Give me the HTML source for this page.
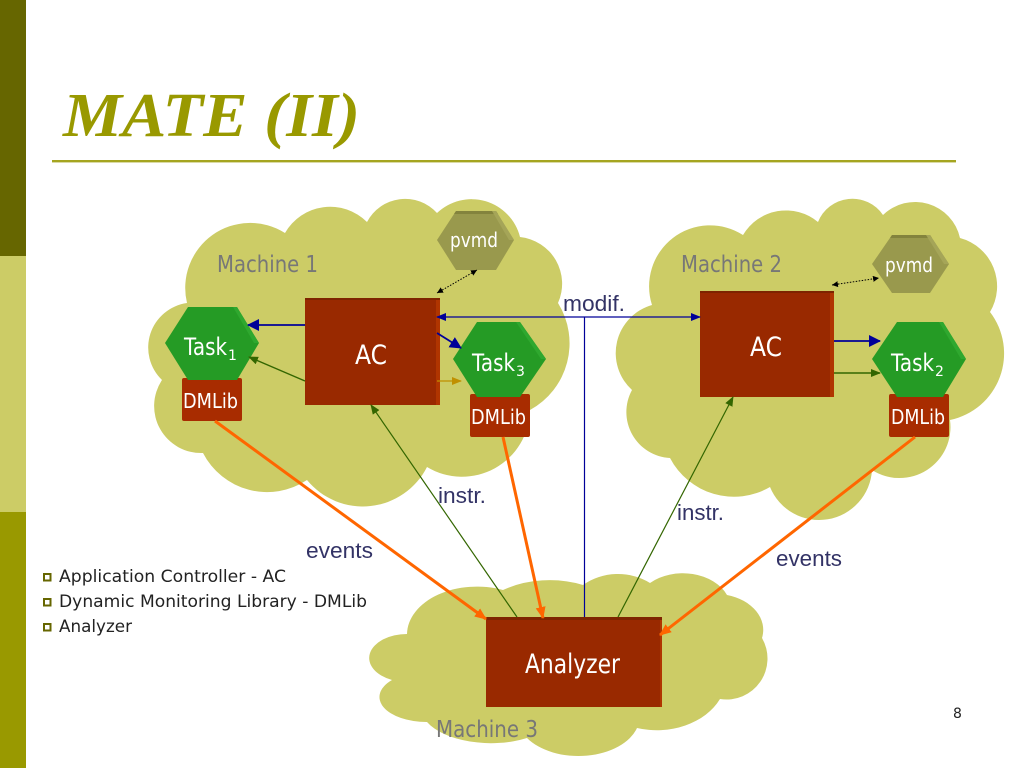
<!DOCTYPE html>
<html><head><meta charset="utf-8"><style>
html,body{margin:0;padding:0;background:#fff;width:1024px;height:768px;overflow:hidden}
svg{display:block}
text{font-family:"Liberation Sans",sans-serif}
.d{font-family:"DejaVu Sans",sans-serif}
.w{fill:#fff;font-family:"DejaVu Sans",sans-serif}
.m{fill:#777777;font-size:23px;font-family:"DejaVu Sans",sans-serif}
.l{fill:#333366;font-size:22px}
</style></head><body>
<svg width="1024" height="768" viewBox="0 0 1024 768" xmlns="http://www.w3.org/2000/svg">
<defs>
<marker id="bl" markerUnits="userSpaceOnUse" markerWidth="14" markerHeight="14" refX="11" refY="6" orient="auto-start-reverse"><path d="M0 0L12 6L0 12z" fill="#000099"/></marker>
<marker id="bs" markerUnits="userSpaceOnUse" markerWidth="12" markerHeight="10" refX="9" refY="4" orient="auto-start-reverse"><path d="M0 0L10 4L0 8z" fill="#000099"/></marker>
<marker id="gr" markerUnits="userSpaceOnUse" markerWidth="12" markerHeight="10" refX="9" refY="4" orient="auto"><path d="M0 0L10 4L0 8z" fill="#336600"/></marker>
<marker id="go" markerUnits="userSpaceOnUse" markerWidth="12" markerHeight="10" refX="9" refY="4" orient="auto"><path d="M0 0L10 4L0 8z" fill="#c09000"/></marker>
<marker id="or" markerUnits="userSpaceOnUse" markerWidth="14" markerHeight="14" refX="11" refY="5" orient="auto"><path d="M0 0L12 5L0 10z" fill="#ff6600"/></marker>
<marker id="bk" markerUnits="userSpaceOnUse" markerWidth="8" markerHeight="8" refX="6" refY="3" orient="auto-start-reverse"><path d="M0 0L6 3L0 6z" fill="#000"/></marker>
</defs>
<rect x="0" y="0" width="26" height="256" fill="#666600"/>
<rect x="0" y="256" width="26" height="256" fill="#cccc66"/>
<rect x="0" y="512" width="26" height="256" fill="#999900"/>
<text x="63" y="136" style="font-family:'Liberation Serif',serif;font-weight:bold;font-style:italic" font-size="62" fill="#999900" textLength="297" lengthAdjust="spacingAndGlyphs">MATE (II)</text>
<rect x="52" y="160" width="904" height="2.4" fill="#a5a520"/>

<g fill="#cccc66">
<!-- Cloud 1 -->
<path d="M285,233 A52,52 0 0 1 367,222 A43,43 0 0 1 437,213 A50,50 0 0 1 520,237 A47,47 0 0 1 558,303 A76,76 0 0 1 530,410 A68,68 0 0 1 427,467 A72,72 0 0 1 307,480 A72,72 0 0 1 203,453 A47,47 0 0 1 162,380 A45,45 0 0 1 187,303 A65,65 0 0 1 285,233 Z"/>
<!-- Cloud 2 -->
<path d="M743,235 A50,50 0 0 1 818,222 A37,37 0 0 1 883,215 A46,46 0 0 1 960,238 A50,50 0 0 1 990,312 A68,68 0 0 1 950,420 A51,51 0 0 1 872,470 A53,53 0 0 1 770,487 A72,72 0 0 1 670,458 A46,46 0 0 1 632,390 A50,50 0 0 1 652,305 A61,61 0 0 1 743,235 Z"/>
<!-- Cloud 3 -->
<path d="M407,634 A70,48 0 0 1 503,590 A85,60 0 0 1 583,585 A56,50 0 0 1 650,583 A48,36 0 0 1 727,595 A48,36 0 0 1 762,638 A41,41 0 0 1 720,699 A70,55 0 0 1 637,728 A61,39 0 0 1 527,738 A70,36 0 0 1 427,722 A47,25 0 0 1 392,680 A38,24 0 0 1 407,634 Z"/>
</g>

<text class="m" x="217" y="272" textLength="101" lengthAdjust="spacingAndGlyphs">Machine 1</text>
<text class="m" x="681" y="272" textLength="101" lengthAdjust="spacingAndGlyphs">Machine 2</text>
<text class="m" x="436" y="737" textLength="102" lengthAdjust="spacingAndGlyphs">Machine 3</text>

<!-- Boxes -->
<g>
<rect x="305" y="298" width="135" height="107" fill="#992900"/><rect x="436" y="298" width="4" height="107" fill="#b03500"/><rect x="305" y="298" width="135" height="2" fill="#7e2400"/>
<rect x="700" y="291" width="134" height="106" fill="#992900"/><rect x="830" y="291" width="4" height="106" fill="#b03500"/><rect x="700" y="291" width="134" height="2" fill="#7e2400"/>
<rect x="486" y="617" width="176" height="90" fill="#992900"/><rect x="660" y="617" width="2" height="90" fill="#b03500"/><rect x="486" y="617" width="176" height="3" fill="#7e2400"/>
<rect x="182" y="378" width="60" height="43" rx="2" fill="#a82c00"/>
<rect x="470" y="394" width="60" height="43" rx="2" fill="#a82c00"/>
<rect x="889" y="394" width="60" height="43" rx="2" fill="#a82c00"/>
</g>

<!-- Hexagons -->
<polygon points="165,343 188,307 237,307 259,343 237,380 188,380" fill="#259b25"/>
<polygon points="233,307 237,307 259,343 254,343" fill="#2fa82f"/>
<polygon points="453,359 477,322 520,322 546,359 520,397 477,397" fill="#259b25"/>
<polygon points="516,322 520,322 546,359 541,359" fill="#2fa82f"/>
<polygon points="872,359 897,322 943,322 966,359 943,397 897,397" fill="#259b25"/>
<polygon points="939,322 943,322 966,359 961,359" fill="#2fa82f"/>
<polygon points="437,240 456,211 496,211 514,240 496,270 456,270" fill="#99994d"/>
<polygon points="456,211 496,211 498,214 454,214" fill="#83833d"/>
<polygon points="492,211 496,211 514,240 509,240" fill="#a5a558"/>
<polygon points="872,264 892,235 930,235 949,264 930,293 892,293" fill="#99994d"/>
<polygon points="892,235 930,235 932,238 890,238" fill="#83833d"/>
<polygon points="926,235 930,235 949,264 944,264" fill="#a5a558"/>

<!-- Thin connectors -->
<line x1="305" y1="325" x2="248" y2="325" stroke="#000099" stroke-width="1.8" marker-end="url(#bl)"/>
<line x1="437" y1="317" x2="700" y2="317" stroke="#000099" stroke-width="1.3" marker-start="url(#bs)" marker-end="url(#bs)"/>
<line x1="584.5" y1="317" x2="584.5" y2="617" stroke="#000099" stroke-width="1.2"/>
<line x1="437" y1="333" x2="461" y2="348" stroke="#000099" stroke-width="1.8" marker-end="url(#bl)"/>
<line x1="437" y1="381" x2="461" y2="381" stroke="#c09000" stroke-width="1.3" marker-end="url(#go)"/>
<line x1="305" y1="381" x2="249" y2="357" stroke="#336600" stroke-width="1.4" marker-end="url(#gr)"/>
<line x1="517" y1="617" x2="371" y2="405" stroke="#336600" stroke-width="1.2" marker-end="url(#gr)"/>
<line x1="618" y1="617" x2="733" y2="397" stroke="#336600" stroke-width="1.2" marker-end="url(#gr)"/>
<line x1="834" y1="341" x2="880" y2="341" stroke="#000099" stroke-width="1.8" marker-end="url(#bl)"/>
<line x1="834" y1="373" x2="880" y2="373" stroke="#336600" stroke-width="1.6" marker-end="url(#gr)"/>
<line x1="437" y1="293" x2="477" y2="270" stroke="#000" stroke-width="1" stroke-dasharray="1.5 1.5" marker-start="url(#bk)" marker-end="url(#bk)"/>
<line x1="832" y1="285" x2="879" y2="278" stroke="#000" stroke-width="1" stroke-dasharray="1.5 1.5" marker-start="url(#bk)" marker-end="url(#bk)"/>

<!-- Orange -->
<line x1="215" y1="421" x2="486" y2="619" stroke="#ff6600" stroke-width="3" marker-end="url(#or)"/>
<line x1="503" y1="437" x2="543" y2="618" stroke="#ff6600" stroke-width="3" marker-end="url(#or)"/>
<line x1="915" y1="437" x2="660" y2="635" stroke="#ff6600" stroke-width="3" marker-end="url(#or)"/>

<!-- Node labels -->
<text class="w" x="355" y="364" font-size="27" textLength="32" lengthAdjust="spacingAndGlyphs">AC</text>
<text class="w" x="750" y="356" font-size="27" textLength="32" lengthAdjust="spacingAndGlyphs">AC</text>
<text class="w" x="525" y="673" font-size="27" textLength="95" lengthAdjust="spacingAndGlyphs">Analyzer</text>
<text class="w" x="184" y="355" font-size="24" textLength="43" lengthAdjust="spacingAndGlyphs">Task</text>
<text class="w" x="228" y="360" font-size="14">1</text>
<text class="w" x="472" y="371" font-size="24" textLength="43" lengthAdjust="spacingAndGlyphs">Task</text>
<text class="w" x="516" y="376" font-size="14">3</text>
<text class="w" x="891" y="371" font-size="24" textLength="43" lengthAdjust="spacingAndGlyphs">Task</text>
<text class="w" x="935" y="376" font-size="14">2</text>
<text class="w" x="183" y="408" font-size="20" textLength="55" lengthAdjust="spacingAndGlyphs">DMLib</text>
<text class="w" x="471" y="424" font-size="20" textLength="55" lengthAdjust="spacingAndGlyphs">DMLib</text>
<text class="w" x="891" y="424" font-size="20" textLength="54" lengthAdjust="spacingAndGlyphs">DMLib</text>
<text class="w" x="450" y="247" font-size="20" textLength="48" lengthAdjust="spacingAndGlyphs">pvmd</text>
<text class="w" x="885" y="272" font-size="20" textLength="48" lengthAdjust="spacingAndGlyphs">pvmd</text>

<text class="l" x="563" y="311" textLength="62" lengthAdjust="spacingAndGlyphs">modif.</text>
<text class="l" x="438" y="503" textLength="48" lengthAdjust="spacingAndGlyphs">instr.</text>
<text class="l" x="677" y="520" textLength="47" lengthAdjust="spacingAndGlyphs">instr.</text>
<text class="l" x="306" y="558" textLength="67" lengthAdjust="spacingAndGlyphs">events</text>
<text class="l" x="776" y="566" textLength="66" lengthAdjust="spacingAndGlyphs">events</text>

<!-- Bullets -->
<g fill="none" stroke="#666600" stroke-width="2">
<rect x="44" y="574" width="6.5" height="6.5"/>
<rect x="44" y="599" width="6.5" height="6.5"/>
<rect x="44" y="624" width="6.5" height="6.5"/>
</g>
<g fill="#222" font-size="16.5">
<text class="d" x="59" y="582" textLength="227" lengthAdjust="spacingAndGlyphs">Application Controller - AC</text>
<text class="d" x="59" y="607" textLength="308" lengthAdjust="spacingAndGlyphs">Dynamic Monitoring Library - DMLib</text>
<text class="d" x="59" y="632" textLength="73" lengthAdjust="spacingAndGlyphs">Analyzer</text>
</g>
<text class="d" x="953" y="718" font-size="14" fill="#222">8</text>
</svg>
</body></html>
